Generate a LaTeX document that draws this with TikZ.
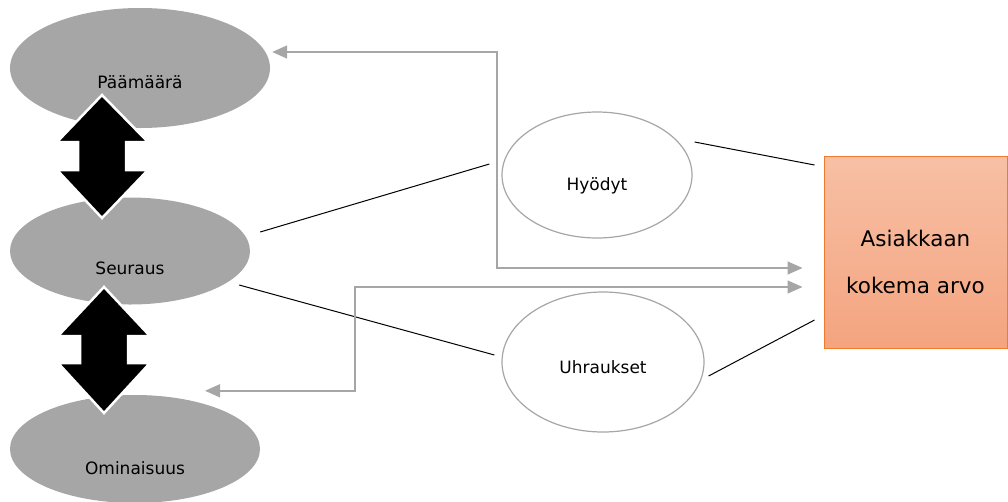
\documentclass[tikz,border=0pt]{standalone}
\usepackage{fontspec}
\setmainfont{DejaVu Sans}
\usetikzlibrary{arrows.meta,shapes.geometric}
\definecolor{ggray}{HTML}{A6A6A6}
\definecolor{boxtop}{HTML}{F7C0A5}
\definecolor{boxbot}{HTML}{F4A47F}
\definecolor{boxline}{HTML}{F07A2D}
\tikzset{
  gell/.style={ellipse, fill=ggray, draw=none, inner sep=0pt},
  well/.style={ellipse, fill=white, draw=ggray, line width=1.2pt, inner sep=0pt},
  lbl/.style={font=\fontsize{17}{20}\selectfont},
  conn/.style={draw=black, line width=1pt},
  garrow/.style={draw=ggray, line width=1.5pt, {Triangle[length=15pt,width=13pt]}-{Triangle[length=15pt,width=13pt]}},
  bigarrow/.style={fill=black, draw=white, line width=2.5pt, line join=miter}
}
\begin{document}
\begin{tikzpicture}[x=1pt,y=-1pt]
\useasboundingbox (0,0) rectangle (1008,501);
% grey ellipses
\node[gell, minimum width=260pt, minimum height=120pt] (pam) at (140,68) {};
\node[lbl] at ([yshift=-14pt]pam.center) {Päämäärä};
\node[gell, minimum width=240pt, minimum height=107pt] (seur) at (130,251) {};
\node[lbl] at ([yshift=-17pt]seur.center) {Seuraus};
\node[gell, minimum width=250pt, minimum height=108pt] (omi) at (135,449) {};
\node[lbl] at ([yshift=-19pt]omi.center) {Ominaisuus};
% white ellipses
\node[well, minimum width=190pt, minimum height=126pt] (hyo) at (597,175) {};
\node[lbl] at ([yshift=-11pt]hyo.center) {Hyödyt};
\node[well, minimum width=202pt, minimum height=140pt] (uhr) at (603,362) {};
\node[lbl] at ([yshift=-5pt]uhr.center) {Uhraukset};
% box
\node[draw=boxline, line width=1pt, top color=boxtop, bottom color=boxbot,
      minimum width=183pt, minimum height=192pt, inner sep=0pt] (box) at (915.5,252) {};
\node[align=center, font=\fontsize{21.5}{47}\selectfont, inner sep=0pt]
      at ([yshift=-10pt]box.center) {Asiakkaan\\kokema arvo};
% big double arrows
\draw[bigarrow] (102,95) -- (148,142) -- (126,142) -- (126,170) -- (148,170)
  -- (102,218) -- (57,170) -- (78,170) -- (78,142) -- (57,142) -- cycle;
\draw[bigarrow] (104,287) -- (150,336) -- (128,336) -- (128,363) -- (150,363)
  -- (104,413) -- (58,363) -- (80,363) -- (80,336) -- (58,336) -- cycle;
% black connectors
\draw[conn] ([shift={(10,-19)}]seur.east) -- ([shift={(-12,-11)}]hyo.west);
\draw[conn] ([shift={(2,-33)}]hyo.east) -- ([shift={(-9,-87)}]box.west);
\draw[conn] ([shift={(-11,34)}]seur.east) -- ([shift={(-7,-7)}]uhr.west);
\draw[conn] ([shift={(4,14)}]uhr.east) -- ([shift={(-9,68)}]box.west);
% grey elbow arrows
\draw[garrow] ([shift={(2,-16)}]pam.east) -- ++(225,0) |- ([shift={(-21,16)}]box.west);
\draw[garrow] ([shift={(70,-4)}]omi.north) -- ++(150,0) |- ([shift={(-21,35)}]box.west);
\end{tikzpicture}
\end{document}
